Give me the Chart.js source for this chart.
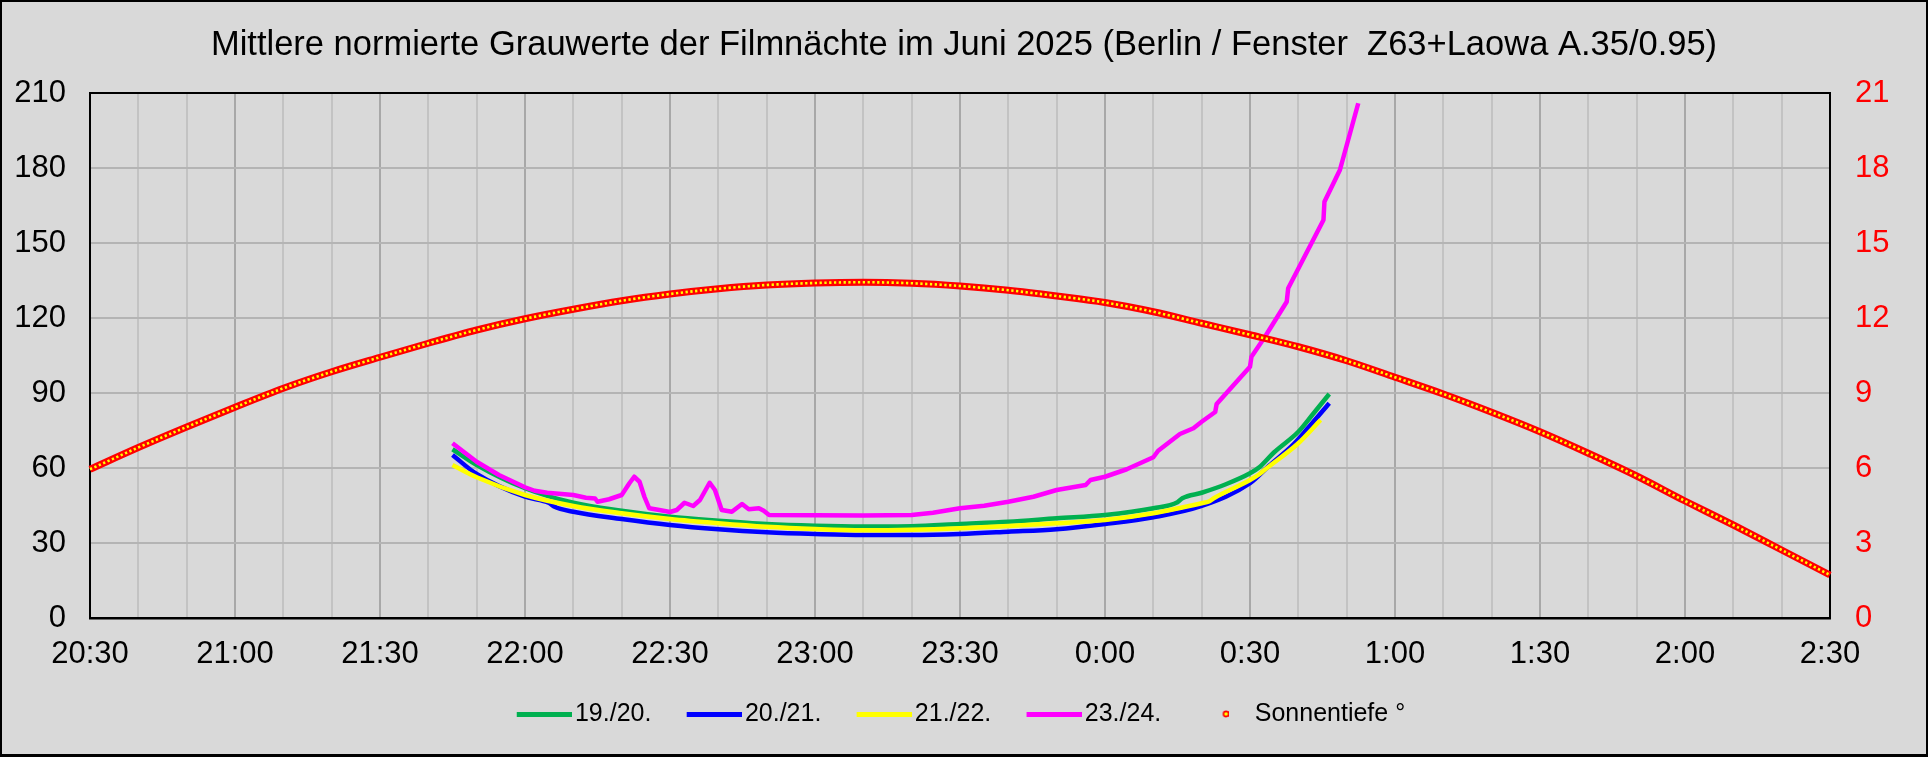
<!DOCTYPE html>
<html>
<head>
<meta charset="utf-8">
<script src="https://cdn.jsdelivr.net/npm/chart.js@4.4.1/dist/chart.umd.min.js"></script>
<style>
  html, body { margin: 0; padding: 0; background: #d9d9d9; }
  canvas { display: block; }
</style>
</head>
<body>
<canvas id="grauChart" width="1928" height="757"></canvas>
<script>
// x values are minutes after 20:30
var xTickLabels = ["20:30", "21:00", "21:30", "22:00", "22:30", "23:00", "23:30",
  "0:00", "0:30", "1:00", "1:30", "2:00", "2:30"];

var seriesNames = ["19./20.", "20./21.", "21./22.", "23./24.", "Sonnentiefe °"];

var min1920 = [75, 80, 90, 100, 110, 120, 130, 140, 150, 160, 170, 180, 190, 200, 210,
  220, 225, 226, 230, 235, 240, 242, 245, 250, 253, 256.4];
var val1920 = [67.5, 61.2, 51.9, 46.1, 42.9, 40.5, 38.9, 37.6, 36.9, 36.6, 36.7, 37.6, 38.5, 39.9, 41.2,
  43.9, 46.3, 47.9, 50.1, 53.5, 57.9, 60.4, 66.3, 74.5, 81.5, 89.6];

var min2021 = [75, 80, 90, 95, 96, 100, 110, 120, 130, 140, 150, 160, 170, 180, 190,
  200, 210, 220, 230, 240, 244, 249, 252, 256.4];
var val2021 = [65.2, 57.6, 48.5, 46.0, 44.6, 42.5, 39.6, 37.2, 35.5, 34.3, 33.6, 33.2, 33.2, 33.6, 34.5,
  35.5, 37.6, 40.3, 44.8, 53.9, 61.0, 69.5, 76.0, 85.9];

var min2122 = [75, 80, 90, 100, 110, 120, 130, 140, 150, 160, 170, 180, 190, 200, 210,
  220, 230, 231.5, 232.5, 240, 242, 243, 250, 254.6];
var val2122 = [61.2, 56.3, 49.2, 44.8, 41.9, 39.6, 37.9, 36.5, 35.6, 35.1, 35.3, 35.9, 36.8, 37.9, 39.2,
  41.9, 45.9, 46.6, 47.9, 55.2, 57.6, 59.2, 69.9, 79.2];

var min2324 = [75, 80, 84.6, 90, 92, 94.6, 100, 102.6, 104.5, 105, 107.4, 110, 111.6, 112.6, 113.7,
  114.7, 115.7, 117.8, 120, 121.4, 123, 124.8, 126.2, 128.2, 129.3, 130.7, 132.8, 134.9, 136.3,
  138.4, 139.4, 140.5, 150, 160, 170, 174.4, 180, 185, 190, 195.2, 200, 206, 207, 210, 214.5, 220, 221,
  225.5, 228.3, 230, 232.8, 233.1, 240, 240.3, 243.1, 247.6, 247.9, 255.2, 255.4, 258.6, 262.4];
var val2324 = [69.9, 62.5, 57.2, 52.3, 50.9, 50.1, 49.2, 48.1, 47.8, 46.5, 47.5, 49.2, 53.9, 56.5, 54.5,
  48.5, 43.9, 43.2, 42.4, 43.2, 46.1, 44.8, 47.2, 54.1, 51.2, 43.2, 42.5, 45.6, 43.5,
  43.9, 42.9, 41.2, 41.1, 41.0, 41.2, 42.1, 43.9, 44.9, 46.5, 48.5, 51.2, 53.2, 55.2, 56.5, 59.5, 64.3, 66.9,
  73.6, 75.9, 78.5, 82.4, 85.6, 100.5, 104.5, 112.5, 126.5, 131.9, 159.2, 166.5, 179.2, 205.9];

var sunMin = [0, 10, 20, 30, 40, 50, 60, 70, 80, 90, 100, 110, 120, 130, 140, 150, 160, 170, 180,
  190, 200, 210, 220, 230, 240, 250, 260, 270, 280, 290, 300, 310, 320, 330, 340, 350, 360];
var sunDeg = [5.95, 6.82, 7.64, 8.43, 9.19, 9.85, 10.43, 10.99, 11.52, 11.97, 12.35, 12.69, 12.96, 13.17,
  13.32, 13.40, 13.43, 13.39, 13.28, 13.11, 12.88, 12.62, 12.25, 11.79, 11.33, 10.85, 10.29, 9.63,
  8.96, 8.23, 7.45, 6.59, 5.68, 4.68, 3.72, 2.72, 1.72];

function pts(xs, ys) {
  return xs.map(function (x, i) { return { x: x, y: ys[i] }; });
}

// legend marks: the canvas is centred on the legend box, the mark sits right next to the text
function lineIcon(color) {
  var c = document.createElement("canvas");
  c.width = 72; c.height = 5;
  var g = c.getContext("2d");
  g.fillStyle = color;
  g.fillRect(17, 0, 55, 5);
  return c;
}

function dotIcon() {
  var c = document.createElement("canvas");
  c.width = 26; c.height = 8;
  var g = c.getContext("2d");
  g.beginPath();
  g.arc(23.5, 4, 2.6, 0, Math.PI * 2);
  g.fillStyle = "#ffff00";
  g.fill();
  g.lineWidth = 1.6;
  g.strokeStyle = "#ff0000";
  g.stroke();
  return c;
}

var icons = [lineIcon("#00b050"), lineIcon("#0000ff"), lineIcon("#ffff00"), lineIcon("#ff00ff"), dotIcon()];

var frame = {
  id: "frame",
  beforeDraw: function (chart) {
    var c = chart.ctx;
    c.save();
    c.fillStyle = "#d9d9d9";
    c.fillRect(0, 0, chart.width, chart.height);
    c.restore();
  },
  beforeDatasetsDraw: function (chart) {
    var c = chart.ctx, a = chart.chartArea;
    c.save();
    c.strokeStyle = "#000";
    c.lineWidth = 2;
    c.beginPath();
    c.moveTo(a.left, a.top);
    c.lineTo(a.right, a.top);
    c.stroke();
    c.restore();
  },
  afterDraw: function (chart) {
    var c = chart.ctx;
    c.save();
    c.strokeStyle = "#000";
    c.lineWidth = 2;
    c.strokeRect(1, 1, chart.width - 2, chart.height - 2);
    c.fillStyle = "#000";
    c.fillRect(0, chart.height - 3, chart.width, 3);
    c.restore();
  }
};

Chart.defaults.font.family = "'Liberation Sans', Arial, sans-serif";
Chart.defaults.color = "#000";

function grayLine(label, data, color, order) {
  return {
    label: label,
    data: data,
    yAxisID: "y",
    borderColor: color,
    backgroundColor: color,
    borderWidth: 4.5,
    pointRadius: 0,
    cubicInterpolationMode: "monotone",
    order: order
  };
}

var magenta = grayLine(seriesNames[3], pts(min2324, val2324), "#ff00ff", 2);
magenta.cubicInterpolationMode = "default";
magenta.tension = 0;
magenta.borderJoinStyle = "round";

var ctx = document.getElementById("grauChart").getContext("2d");
var grauChart = new Chart(ctx, {
  type: "line",
  data: {
    datasets: [
      grayLine(seriesNames[0], pts(min1920, val1920), "#00b050", 5),
      grayLine(seriesNames[1], pts(min2021, val2021), "#0000ff", 4),
      grayLine(seriesNames[2], pts(min2122, val2122), "#ffff00", 3),
      magenta,
      {
        label: seriesNames[4],
        data: pts(sunMin, sunDeg),
        yAxisID: "y2",
        borderColor: "#ff0000",
        backgroundColor: "#ffff00",
        borderWidth: 7,
        pointRadius: 0,
        cubicInterpolationMode: "monotone",
        clip: 6,
        order: 1
      },
      {
        label: "sunCore",
        data: pts(sunMin, sunDeg),
        yAxisID: "y2",
        borderColor: "#ffff00",
        borderWidth: 2.6,
        borderDash: [2.3, 2.5],
        borderCapStyle: "butt",
        pointRadius: 0,
        cubicInterpolationMode: "monotone",
        clip: 6,
        order: 0
      }
    ]
  },
  options: {
    responsive: false,
    devicePixelRatio: 1,
    animation: false,
    layout: { padding: { top: 0, left: 0, right: 0, bottom: 20.5 } },
    plugins: {
      tooltip: { enabled: false },
      title: {
        display: true,
        text: "Mittlere normierte Grauwerte der Filmnächte im Juni 2025 (Berlin / Fenster  Z63+Laowa A.35/0.95)",
        font: { size: 34.5, weight: "normal" },
        color: "#000",
        padding: { top: 24.4, bottom: 27.2 }
      },
      legend: {
        position: "bottom",
        labels: {
          usePointStyle: true,
          pointStyleWidth: 53.5,
          padding: 27.5,
          font: { size: 25 },
          color: "#000",
          generateLabels: function (chart) {
            var items = Chart.defaults.plugins.legend.labels.generateLabels(chart);
            return items
              .filter(function (it) { return it.datasetIndex < 5; })
              .sort(function (a, b) { return a.datasetIndex - b.datasetIndex; })
              .map(function (it) {
                it.pointStyle = icons[it.datasetIndex];
                if (it.datasetIndex === 4) it.text = it.text + "  ";
                return it;
              });
          }
        }
      }
    },
    scales: {
      x: {
        type: "linear",
        min: 0,
        max: 360,
        afterFit: function (s) { s.height = 56; },
        ticks: {
          stepSize: 10,
          autoSkip: false,
          maxRotation: 0,
          minRotation: 0,
          padding: 18,
          font: { size: 31 },
          color: "#000",
          callback: function (v) { return v % 30 === 0 ? xTickLabels[v / 30] : ""; }
        },
        grid: {
          drawTicks: false,
          lineWidth: 2,
          color: function (c) { return c.tick && c.tick.value % 30 === 0 ? "#a8a8a8" : "#c3c3c3"; }
        },
        border: { color: "#000", width: 2.5 }
      },
      y: {
        position: "left",
        min: 0,
        max: 210,
        afterFit: function (s) { s.width = 90; },
        ticks: { stepSize: 30, padding: 24, font: { size: 31 }, color: "#000" },
        grid: { drawTicks: false, lineWidth: 2, color: "#b4b4b4" },
        border: { color: "#000", width: 2 }
      },
      y2: {
        position: "right",
        min: 0,
        max: 21,
        afterFit: function (s) { s.width = 98; },
        ticks: { stepSize: 3, padding: 25, font: { size: 31 }, color: "#ff0000" },
        grid: { drawOnChartArea: false, drawTicks: false },
        border: { color: "#000", width: 2 }
      }
    }
  },
  plugins: [frame]
});
</script>
</body>
</html>
